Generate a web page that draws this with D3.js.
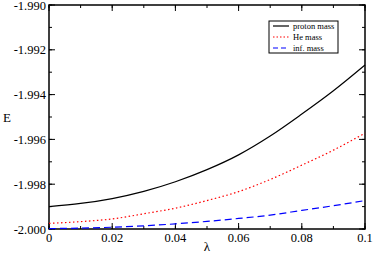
<!DOCTYPE html>
<html>
<head>
<meta charset="utf-8">
<script src="https://cdn.jsdelivr.net/npm/d3@7"></script>
<style>
  body { margin: 0; background: #fff; }
</style>
</head>
<body>
<svg id="chart" width="374" height="256"></svg>
<script>
const lambda = [0, 0.01, 0.02, 0.03, 0.04, 0.05, 0.06, 0.07, 0.08, 0.09, 0.1]
const protonMass = [-1.99900, -1.99886, -1.99864, -1.99832, -1.99789, -1.99735, -1.99669, -1.99585, -1.99487, -1.99383, -1.99268]
const heMass = [-1.99975, -1.99967, -1.99955, -1.99932, -1.99907, -1.99873, -1.99833, -1.99779, -1.99715, -1.99648, -1.99572]
const infMass = [-1.99998, -1.99996, -1.99992, -1.99986, -1.99977, -1.99966, -1.99953, -1.99938, -1.99917, -1.99896, -1.99873]
const xTicks = [0, 0.02, 0.04, 0.06, 0.08, 0.1]
const xTickLabels = ["0", "0.02", "0.04", "0.06", "0.08", "0.1"]
const yTicks = [-2.000, -1.998, -1.996, -1.994, -1.992, -1.990]
const seriesNames = ["proton mass", "He mass", "inf. mass"]

// default page font renders as a Times-like serif here
const svg = d3.select("#chart")
const pLeft = 49, pRight = 365, pTop = 5, pBottom = 229

const scX = d3.scaleLinear().domain([0, 0.1]).range([pLeft, pRight])
const scY = d3.scaleLinear().domain([-2.000, -1.990]).range([pBottom, pTop])

const xMinor = d3.range(0, 0.1001, 0.01)
const yMinor = d3.range(-2.000, -1.98999, 0.001)

// plot frame
svg.append("rect")
    .attr("x", pLeft).attr("y", pTop)
    .attr("width", pRight - pLeft).attr("height", pBottom - pTop)
    .attr("fill", "none").attr("stroke", "#000").attr("stroke-width", 1.5)

// ticks pointing inward, on all four sides
function tickMarks(g, vals, len, horizontal) {
    vals.forEach(v => {
        if (horizontal) {
            let x = scX(v)
            g.append("line").attr("x1", x).attr("x2", x).attr("y1", pBottom).attr("y2", pBottom - len)
            g.append("line").attr("x1", x).attr("x2", x).attr("y1", pTop).attr("y2", pTop + len)
        } else {
            let y = scY(v)
            g.append("line").attr("y1", y).attr("y2", y).attr("x1", pLeft).attr("x2", pLeft + len)
            g.append("line").attr("y1", y).attr("y2", y).attr("x1", pRight).attr("x2", pRight - len)
        }
    })
}
let ticks = svg.append("g").attr("stroke", "#000").attr("stroke-width", 1)
tickMarks(ticks, xMinor, 3, true)
tickMarks(ticks, xTicks, 6, true)
tickMarks(ticks, yMinor, 3, false)
tickMarks(ticks, yTicks, 6, false)

// tick labels
svg.append("g").selectAll("text").data(xTicks).enter().append("text")
    .attr("x", d => scX(d)).attr("y", pBottom + 13)
    .attr("text-anchor", "middle").attr("font-size", 12.5)
    .text((d, i) => xTickLabels[i])
svg.append("g").selectAll("text").data(yTicks).enter().append("text")
    .attr("x", pLeft - 3).attr("y", d => scY(d) + 4.5)
    .attr("text-anchor", "end").attr("font-size", 12.5)
    .text(d => d3.format(".3f")(d).replace("−", "-"))

// axis titles
svg.append("text").attr("x", 3).attr("y", 122).attr("font-size", 13).text("E")
svg.append("text").attr("x", 207).attr("y", 251).attr("font-size", 13)
    .attr("text-anchor", "middle").text("λ")

// curves
const styles = [
    { color: "#000000", dash: null },
    { color: "#ff0000", dash: "1.5,2.5" },
    { color: "#0000ff", dash: "7,4" }
]
const lnMkr = d3.line().curve(d3.curveMonotoneX).x(d => scX(d[0])).y(d => scY(d[1]))
;[protonMass, heMass, infMass].forEach((vals, i) => {
    svg.append("path")
        .attr("d", lnMkr(lambda.map((l, j) => [l, vals[j]])))
        .attr("fill", "none")
        .attr("stroke", styles[i].color)
        .attr("stroke-width", 1.2)
        .attr("stroke-dasharray", styles[i].dash)
})

// legend
let lg = svg.append("g").attr("transform", "translate(269,21)")
lg.append("rect").attr("width", 69).attr("height", 32)
    .attr("fill", "#fff").attr("stroke", "#000").attr("stroke-width", 1)
seriesNames.forEach((name, i) => {
    let y = 5 + i * 11
    lg.append("line").attr("x1", 4).attr("x2", 20).attr("y1", y).attr("y2", y)
        .attr("stroke", styles[i].color).attr("stroke-width", 1.2)
        .attr("stroke-dasharray", styles[i].dash ? (i == 1 ? "1.5,2" : "5,3") : null)
    lg.append("text").attr("x", 24).attr("y", y + 2.5).attr("font-size", 8.5).text(name)
})
</script>
</body>
</html>
